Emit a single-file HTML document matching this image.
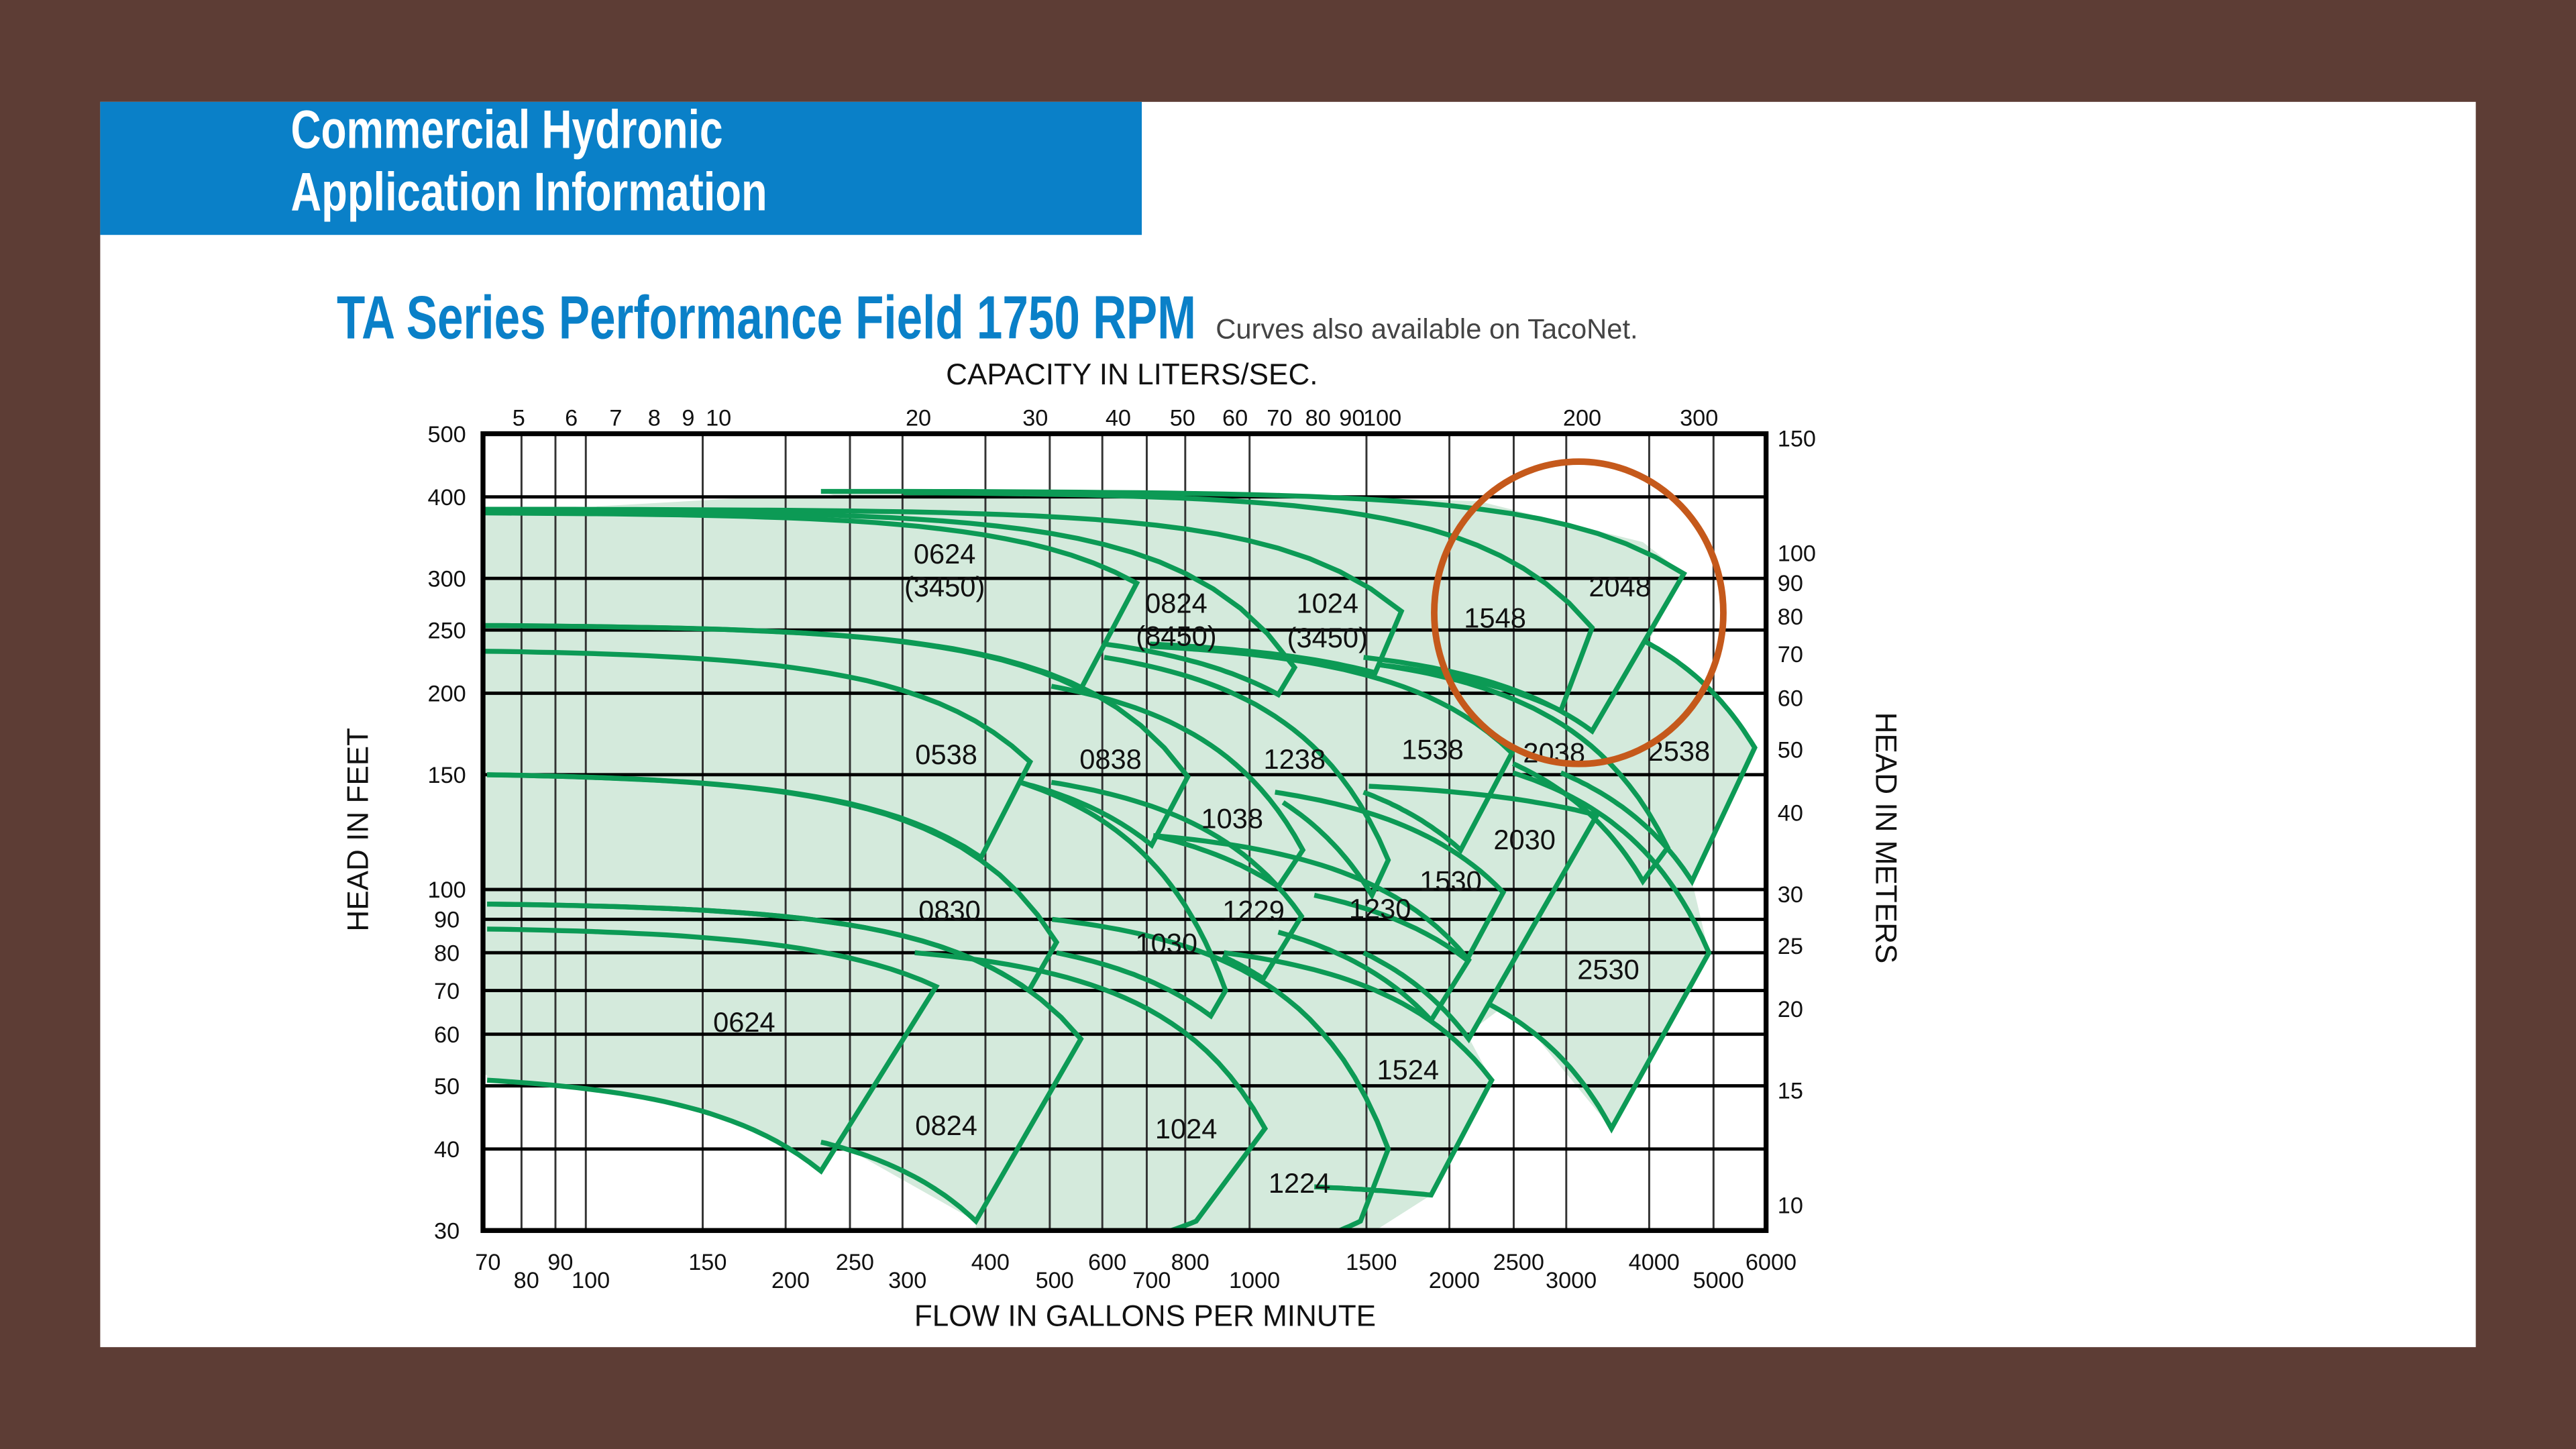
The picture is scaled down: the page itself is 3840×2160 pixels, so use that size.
<!DOCTYPE html>
<html><head><meta charset="utf-8"><style>
html,body{margin:0;padding:0;background:#5d3d35;}
svg{display:block;}
text{font-family:"Liberation Sans",sans-serif;}
</style></head><body>
<svg id="chart" width="3840" height="2160" viewBox="0 0 1568 882" xmlns="http://www.w3.org/2000/svg">
<rect x="0" y="0" width="1568" height="882" fill="#5d3d35"/>
<rect x="61" y="62" width="1446" height="758" fill="#ffffff"/>
<rect x="61" y="62" width="634" height="81" fill="#0a80c8"/>
<text x="177" y="90" fill="#fff" font-size="33" font-weight="bold" textLength="263" lengthAdjust="spacingAndGlyphs" style="font-family:'Liberation Sans Narrow','Liberation Sans',sans-serif">Commercial Hydronic</text>
<text x="177" y="128" fill="#fff" font-size="33" font-weight="bold" textLength="290" lengthAdjust="spacingAndGlyphs" style="font-family:'Liberation Sans Narrow','Liberation Sans',sans-serif">Application Information</text>
<text x="205" y="206" fill="#0a80c8" font-size="37" font-weight="bold" textLength="523" lengthAdjust="spacingAndGlyphs" style="font-family:'Liberation Sans Narrow','Liberation Sans',sans-serif">TA Series Performance Field 1750 RPM</text>
<text x="740" y="206" fill="#444" font-size="17" textLength="257" lengthAdjust="spacingAndGlyphs">Curves also available on TacoNet.</text>
<text x="689" y="234" fill="#111" font-size="18" text-anchor="middle">CAPACITY IN LITERS/SEC.</text>
<text x="697" y="807" fill="#111" font-size="18" text-anchor="middle">FLOW IN GALLONS PER MINUTE</text>
<text x="0" y="0" fill="#111" font-size="18" text-anchor="middle" transform="translate(224,505) rotate(-90)">HEAD IN FEET</text>
<text x="0" y="0" fill="#111" font-size="18" text-anchor="middle" transform="translate(1142,510) rotate(90)">HEAD IN METERS</text>
<defs><clipPath id="plotclip"><rect x="294" y="264" width="781" height="485"/></clipPath></defs>
<g id="fills" clip-path="url(#plotclip)"></g>
<g id="grid"></g>
<g id="curves" clip-path="url(#plotclip)"></g>
<rect x="294" y="264" width="781" height="485" fill="none" stroke="#000" stroke-width="3"/>
<g id="ticks"></g>
<g id="labels" font-size="17" fill="#111" text-anchor="middle">
<text x="575" y="343">0624</text>
<text x="575" y="363">(3450)</text>
<text x="716" y="373">0824</text>
<text x="716" y="393">(8450)</text>
<text x="808" y="373">1024</text>
<text x="808" y="394">(3450)</text>
<text x="910" y="382">1548</text>
<text x="986" y="363">2048</text>
<text x="576" y="465">0538</text>
<text x="676" y="468">0838</text>
<text x="788" y="468">1238</text>
<text x="872" y="462">1538</text>
<text x="946" y="464">2038</text>
<text x="1022" y="463">2538</text>
<text x="750" y="504">1038</text>
<text x="928" y="517">2030</text>
<text x="883" y="542">1530</text>
<text x="578" y="560">0830</text>
<text x="763" y="560">1229</text>
<text x="840" y="559">1230</text>
<text x="710" y="580">1030</text>
<text x="979" y="596">2530</text>
<text x="453" y="628">0624</text>
<text x="857" y="657">1524</text>
<text x="576" y="691">0824</text>
<text x="722" y="693">1024</text>
<text x="791" y="726">1224</text>
</g>
<ellipse cx="961" cy="373" rx="88" ry="92" fill="none" stroke="#c5591b" stroke-width="4"/>
</svg>
<script>
// ---- data ----
const pumpNames = ["0624-3450","0824-3450","1024-3450","1548","2048","0538","0838","1038","1238","1538","2038","2538","2530","2030","1530","1230","1229","1030","0830","0824","0624","1024","1224","1524"];
const topStartQ = [70,70,70,301,226,70,70,503,604,708,1572,3914,2494,1512,1092,716,503,451,71,71,71,313,504,915];
const topStartH = [378,381,383,406,408,232,254,205,227,236,221,241,151,144,141,121,146,146,150,95,87,80,90,80];
const tipQ = [676,1169,1693,3281,4510,467,807,1203,1618,2484,4264,5768,4920,3335,2410,2139,1197,920,512,557,337,1055,1618,2317];
const tipH = [295,219,267,252,305,157,149,115,111,162,116,165,80,130,99,78,91,70,83,59,71,43,40,51];
const endQ = [557,1105,1546,2945,3281,394,712,1105,1529,2080,3914,4640,3509,2139,2125,1877,1049,874,465,387,226,831,1469,1877];
const endH = [203,199,215,188,175,112,117,101,98,115,103,103,43,59,78,63,73,64,70,31,37,31,31,34];
const botQ = [70,604,708,1572,1485,71,451,716,1123,1485,2494,2945,2276,1485,1252,1105,910,512,71,226,71,503,997,1252];
const botH = [254,238,238,221,227,150,146,121,136,141,156,151,67,80,98,86,79,80,95,41,51,27,27,35];
// outline of the overall covered field (flow gpm, head ft)
const envelopeQ = [70,150,197,226,238,387,387,1469,1877,2317,2125,2452,3509,4920,4640,5768,4000,4510,3914,2213,941,400,170,70];
const envelopeH = [52,48,43,37,41,31,29,29,34,51,60,67,43,80,103,165,241,305,341,394,406,408,398,378];
const gpmTicksHigh = [70,90,150,250,400,600,800,1500,2500,4000,6000];
const gpmTicksLow = [80,100,200,300,500,700,1000,2000,3000,5000];
const gridGpm = [80,90,100,150,200,250,300,400,500,600,700,800,1000,1500,2000,2500,3000,4000,5000];
const feetTicks = [500,400,300,250,200,150,100,90,80,70,60,50,40,30];
const gridFeet = [400,300,250,200,150,100,90,80,70,60,50,40];
const lpsTicks = [5,6,7,8,9,10,20,30,40,50,60,70,80,90,100,200,300];
const meterTicks = [150,100,90,80,70,60,50,40,30,25,20,15,10];

// ---- scales ----
const PX0=294, PX1=1075, PY0=749, PY1=264, XMIN=70, XMAX=6000, YMIN=30, YMAX=500;
function X(q){return PX0+(PX1-PX0)*Math.log10(q/XMIN)/Math.log10(XMAX/XMIN);}
function Y(h){return PY0-(PY0-PY1)*Math.log10(h/YMIN)/Math.log10(YMAX/YMIN);}
const NS="http://www.w3.org/2000/svg";
function mk(tag,attrs,parent){const e=document.createElementNS(NS,tag);for(const k in attrs)e.setAttribute(k,attrs[k]);parent.appendChild(e);return e;}

function curvePts(q1,h1,q2,h2){
  const B=(h1-h2)/(q2*q2-q1*q1), A=h1+B*q1*q1, pts=[];
  for(let i=0;i<=30;i++){const q=q1*Math.pow(q2/q1,i/30);pts.push([X(q),Y(Math.max(A-B*q*q,5))]);}
  return pts;
}
const fills=document.getElementById('fills'), curves=document.getElementById('curves');
const envPts=envelopeQ.map((q,i)=>X(q).toFixed(1)+","+Y(envelopeH[i]).toFixed(1));
const env=mk('polygon',{points:envPts.join(" "),fill:'#d4eadc',stroke:'none'},fills);


for(let i=0;i<pumpNames.length;i++){
  const top=curvePts(topStartQ[i],topStartH[i],tipQ[i],tipH[i]);
  const bot=curvePts(endQ[i],endH[i],botQ[i],botH[i]);
  const all=top.concat(bot);
  const d="M"+all.map(p=>p[0].toFixed(1)+","+p[1].toFixed(1)).join("L")+"Z";
  const f=mk('path',{d:d,fill:'#d4eadc',stroke:'none'},fills);
  
  
  const s=mk('path',{d:"M"+all.map(p=>p[0].toFixed(1)+","+p[1].toFixed(1)).join("L"),fill:'none',stroke:'#0c9a55','stroke-width':3,'stroke-linejoin':'miter'},curves);
  
  
}
const grid=document.getElementById('grid');
gridGpm.forEach(q=>{
  const l=mk('line',{x1:X(q),x2:X(q),y1:PY1,y2:PY0,stroke:'#333','stroke-width':1.2},grid);
  
  
});
gridFeet.forEach(h=>{
  const l=mk('line',{x1:PX0,x2:PX1,y1:Y(h),y2:Y(h),stroke:'#000','stroke-width':2},grid);
  
  
});
const ticks=document.getElementById('ticks');
function txt(s,x,y,anchor,name){const t=mk('text',{x:x,y:y,'font-size':14,fill:'#111','text-anchor':anchor},ticks);t.textContent=s;
  
  }
gpmTicksHigh.forEach(q=>txt(q,X(q)+3,773,'middle','x-tick-'+q));
gpmTicksLow.forEach(q=>txt(q,X(q)+3,784,'middle','x-tick-'+q));
feetTicks.forEach(h=>txt(h,272,Y(h)+5,'middle','y-tick-'+h));
lpsTicks.forEach(v=>txt(v,X(v*15.85),259,'middle','top-tick-'+v));
meterTicks.forEach(m=>txt(m,1082,Y(m*3.281)+5,'start','right-tick-'+m));
</script>
</body></html>
